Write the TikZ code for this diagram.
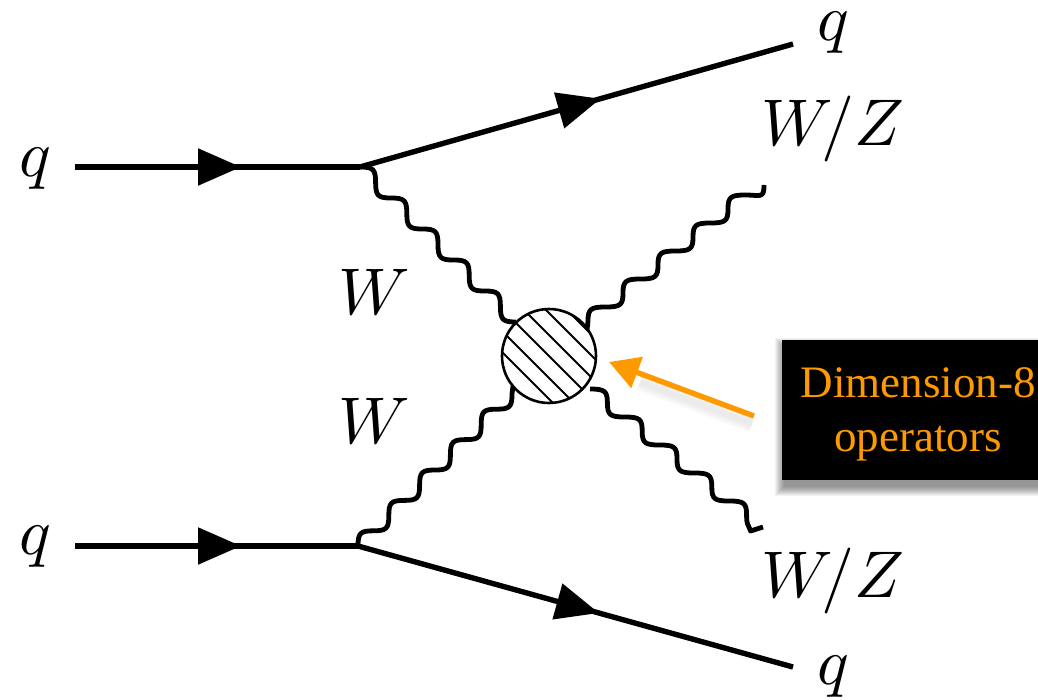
\documentclass[tikz,border=0pt]{standalone}
\usepackage{fontspec}
\setmainfont{Liberation Serif}
\usetikzlibrary{arrows.meta,decorations.markings}
\definecolor{opcolor}{HTML}{FF9900}
\newcommand{\bigmath}[1]{\scalebox{6.6}{$#1$}}
% quarter turns of a staircase wave: horizontal to vertical, vertical to horizontal
\newcommand{\hvturn}[2]{.. controls +(0.85*#1,0) and +(0,-0.85*#2) .. ++(#1,#2)}
\newcommand{\vhturn}[2]{.. controls +(0,0.85*#2) and +(-0.85*#1,0) .. ++(#1,#2)}
\tikzset{
  x=1pt,y=-1pt,
  quark/.style={line width=5.4pt,black},
  tipmark/.style={postaction={decorate,decoration={markings,mark=at position #1 with {\arrow{Triangle[length=43pt,width=36pt]}}}}},
  boson/.style={line width=4.8pt,black,line join=round},
  lab/.style={inner sep=0pt},
  hatchline/.style={line width=2pt,black},
  oparrow/.style={line width=5.4pt,opcolor,-{Triangle[length=30pt,width=32pt]}},
}
\begin{document}
\begin{tikzpicture}
\useasboundingbox (0,0) rectangle (1038,699);
% named points
\coordinate (i1) at (75,167);
\coordinate (v1) at (360,167);
\coordinate (o1) at (793,44);
\coordinate (i2) at (75,546);
\coordinate (v2) at (358,546);
\coordinate (o2) at (793,667);
\coordinate (b1) at (764,185);
\coordinate (b2) at (763,527);
\coordinate (blobc) at (549,356);
\coordinate (e3) at (588,321);
\coordinate (e3s) at (587,330);
\coordinate (e4) at (590,389);
% quarks
\draw[quark,tipmark=166pt] (i1) -- (v1);
\draw[quark,tipmark=166pt] (i2) -- (v2);
\draw[quark,tipmark=250pt] (v1) -- (o1);
\draw[quark,tipmark=250pt] (v2) -- (o2);
% bosons
\draw[boson] (v1) \foreach \n in {1,...,5} {\hvturn{15.6}{15.5} \vhturn{15.6}{15.5}};
\draw[boson] (v2) \foreach \n in {1,...,5} {\vhturn{15.4}{-15.2} \hvturn{15.4}{-15.2}} -- ++(1,-8);
\draw[boson] (e3s) -- (e3) \foreach \n in {1,...,4} {\vhturn{17.5}{-14} \hvturn{17.5}{-14}} \vhturn{17.5}{-14}
  .. controls +(15,0) and +(0,14) .. (b1);
\draw[boson] (e4) \foreach \n in {1,...,4} {\hvturn{17.4}{14} \vhturn{17.4}{14}} \hvturn{17.4}{14}
  .. controls +(0,10) and +(-3,-8) .. ++(4,16) -- (b2);
% blob
\node[circle,draw=black,fill=white,line width=2.6pt,minimum size=94pt,inner sep=0pt] (blob) at (blobc) {};
\begin{scope}
\clip (blobc) circle (47pt);
\foreach \c in {150,171,193,214,236,257}
  \draw[hatchline] ({\c+356-80},276) -- ({\c+356+80},436);
\end{scope}
% shadows
\foreach \d in {9,8,7,6,5,4,3,2,1,0}{
  \fill[black,opacity=0.05] ({782-\d+2},{340-\d+7}) rectangle ({1050},{480+\d+7});
}
\foreach \w in {18,14,10,6}{
  \draw[line width=\w pt,black,opacity=0.02] (752,424) -- (640,382);
}
% label box
\node[fill=black,minimum width=256pt,minimum height=140pt,inner sep=0pt,anchor=north west] (box) at (782,340) {};
\node[inner sep=0pt,align=center,text=opcolor,font=\fontsize{45}{54}\selectfont] (boxtext) at (918,414) {Dimension-8\\operators};
\coordinate (a0) at (754,416);
\coordinate (a1) at (609,362);
\draw[oparrow] (a0) -- (a1);
% labels
\node[lab] (q1) at (35,169) {\bigmath{q}};
\node[lab] (q2) at (35,547) {\bigmath{q}};
\node[lab] (q3) at (833,33) {\bigmath{q}};
\node[lab] (q4) at (833,677) {\bigmath{q}};
\node[lab] (w1) at (374,292) {\bigmath{W}};
\node[lab] (w2) at (374,421) {\bigmath{W}};
\node[lab] (wz1) at (833,129) {\bigmath{W\!/Z}};
\node[lab] (wz2) at (833,581) {\bigmath{W\!/Z}};
\end{tikzpicture}
\end{document}
